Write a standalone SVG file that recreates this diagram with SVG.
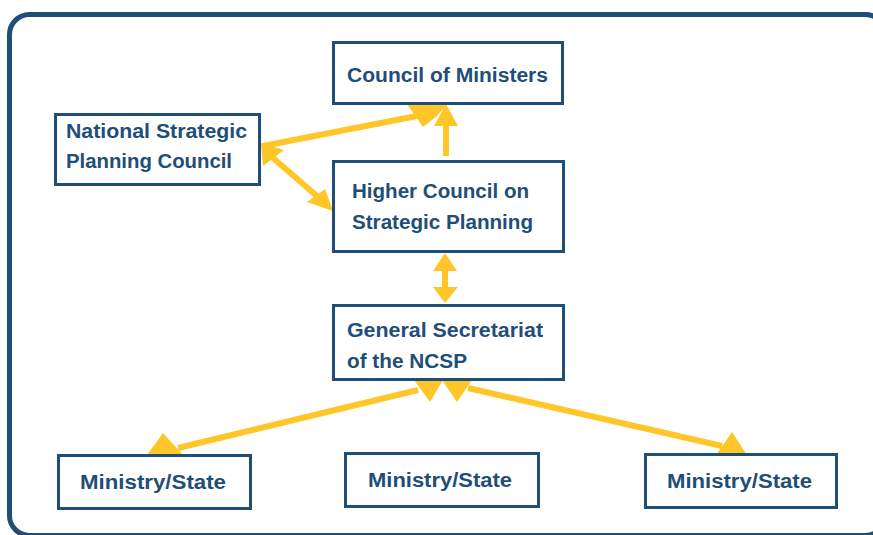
<svg xmlns="http://www.w3.org/2000/svg" width="873" height="535" viewBox="0 0 873 535">
  <style>
    .frame { fill: none; stroke: #1F4E79; stroke-width: 5; }
    .box { fill: #FFFFFF; stroke: #1F4E79; stroke-width: 3; }
    .lbl { font-family: "Liberation Sans", Arial, sans-serif; font-weight: bold; font-size: 20px; fill: #1F4E79; }
    .line { stroke: #FFC629; stroke-width: 6; fill: none; }
    .head { fill: #FFC629; stroke: none; }
  </style>
  <rect x="0" y="0" width="873" height="535" fill="#FFFFFF"/>
  <rect class="frame" x="9.5" y="14.5" width="876" height="521" rx="20" ry="20"/>

  <!-- connectors (drawn under the boxes) -->
  <g id="connectors">
    <!-- National Strategic Planning Council <-> Council of Ministers -->
    <line class="line" x1="263" y1="146" x2="422" y2="115"/>
    <polygon class="head" points="407,104 447,104 437,116 423,127"/>
    <!-- National Strategic Planning Council <-> Higher Council -->
    <line class="line" x1="272" y1="157" x2="318" y2="197"/>
    <polygon class="head" points="261,143 284,150 263,166"/>
    <polygon class="head" points="333,211 307,202 325,189"/>
    <!-- Higher Council -> Council of Ministers -->
    <line class="line" x1="446" y1="156" x2="446" y2="120"/>
    <polygon class="head" points="446,104 434,126 458,126"/>
    <!-- Higher Council <-> General Secretariat -->
    <line class="line" x1="445" y1="266" x2="445" y2="290"/>
    <polygon class="head" points="445,253 433,271 457,271"/>
    <polygon class="head" points="445,303 433,287 458,287"/>
    <!-- General Secretariat <-> left Ministry/State -->
    <line class="line" x1="178" y1="448" x2="418" y2="390"/>
    <polygon class="head" points="147,455 163,433 183,455"/>
    <polygon class="head" points="414,380 443,380 430,402"/>
    <!-- General Secretariat <-> right Ministry/State -->
    <line class="line" x1="468" y1="388" x2="722" y2="446"/>
    <polygon class="head" points="442,380 472,380 457,402"/>
    <polygon class="head" points="716,455 732,432 747,455"/>
  </g>

  <g id="council-of-ministers">
    <rect class="box" x="333.5" y="42.5" width="229" height="61"/>
    <text class="lbl" x="347" y="82" textLength="201" lengthAdjust="spacingAndGlyphs">Council of Ministers</text>
  </g>

  <g id="national-strategic-planning-council">
    <rect class="box" x="55.5" y="114.5" width="204" height="70"/>
    <text class="lbl" x="66" y="138" textLength="181" lengthAdjust="spacingAndGlyphs">National Strategic</text>
    <text class="lbl" x="66" y="168" textLength="166" lengthAdjust="spacingAndGlyphs">Planning Council</text>
  </g>

  <g id="higher-council">
    <rect class="box" x="333.5" y="161.5" width="230" height="90"/>
    <text class="lbl" x="352" y="198" textLength="177" lengthAdjust="spacingAndGlyphs">Higher Council on</text>
    <text class="lbl" x="352" y="229" textLength="181" lengthAdjust="spacingAndGlyphs">Strategic Planning</text>
  </g>

  <g id="general-secretariat">
    <rect class="box" x="333.5" y="305.5" width="230" height="74"/>
    <text class="lbl" x="347" y="337" textLength="196" lengthAdjust="spacingAndGlyphs">General Secretariat</text>
    <text class="lbl" x="347" y="368" textLength="120" lengthAdjust="spacingAndGlyphs">of the NCSP</text>
  </g>

  <g id="ministry-left">
    <rect class="box" x="58.5" y="455.5" width="192" height="53"/>
    <text class="lbl" x="80" y="489" textLength="146" lengthAdjust="spacingAndGlyphs">Ministry/State</text>
  </g>

  <g id="ministry-middle">
    <rect class="box" x="345.5" y="453.5" width="193" height="53"/>
    <text class="lbl" x="368" y="487" textLength="144" lengthAdjust="spacingAndGlyphs">Ministry/State</text>
  </g>

  <g id="ministry-right">
    <rect class="box" x="645.5" y="454.5" width="191" height="53"/>
    <text class="lbl" x="667" y="488" textLength="145" lengthAdjust="spacingAndGlyphs">Ministry/State</text>
  </g>
</svg>
